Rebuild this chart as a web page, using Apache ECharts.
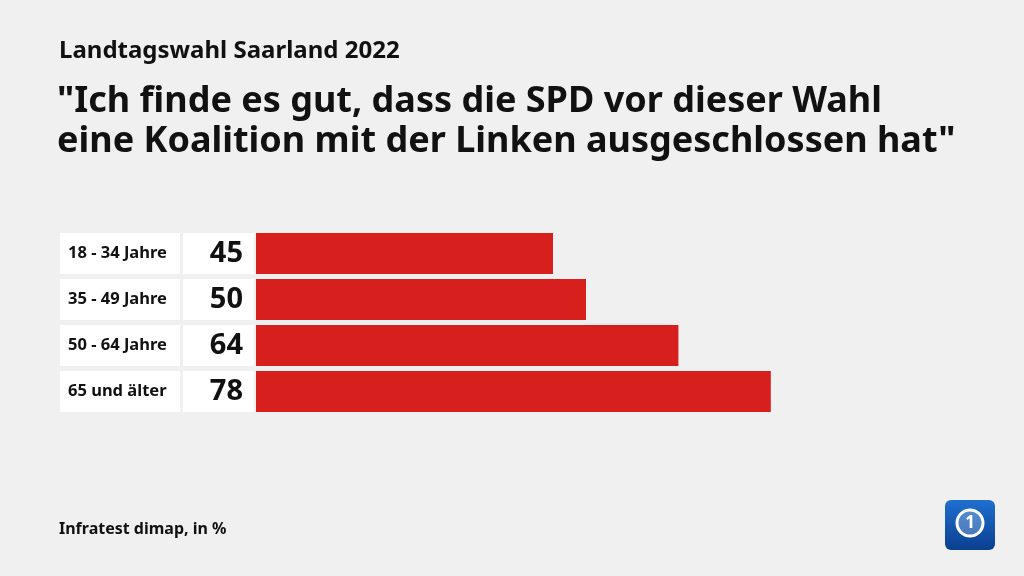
<!DOCTYPE html>
<html><head><meta charset="utf-8">
<script src="https://cdn.jsdelivr.net/npm/echarts@6/dist/echarts.min.js"></script>
<style>html,body{margin:0;padding:0;background:#f0f0f0}#c{width:1024px;height:576px}</style>
</head><body><div id="c"></div>
<script>
const categories = ['18 - 34 Jahre', '35 - 49 Jahre', '50 - 64 Jahre', '65 und älter'];
const values = [45, 50, 64, 78];
const supertitle = 'Landtagswahl Saarland 2022';
const headline = '"Ich finde es gut, dass die SPD vor dieser Wahl\neine Koalition mit der Linken ausgeschlossen hat"';
const source = 'Infratest dimap, in %';

const FONT = '"Noto Sans", "Open Sans", sans-serif';
const chart = echarts.init(document.getElementById('c'), null, {renderer: 'canvas'});
chart.setOption({
  backgroundColor: '#f0f0f0',
  animation: false,
  title: [
    {text: supertitle, left: 59, top: 39, padding: 0, textStyle: {fontFamily: FONT, fontSize: 24, fontWeight: 'bold', color: '#111'}},
    {text: headline, left: 57, top: 82, padding: 0, textStyle: {fontFamily: FONT, fontSize: 36, fontWeight: 'bold', color: '#111', lineHeight: 40}},
    {text: source, left: 59, top: 521, padding: 0, textStyle: {fontFamily: FONT, fontSize: 16, fontWeight: 'bold', color: '#111'}}
  ],
  grid: {left: 256, top: 230.5, width: 660, height: 184},
  xAxis: {type: 'value', min: 0, max: 100, show: false},
  yAxis: {
    type: 'category', data: categories, inverse: true,
    axisLine: {show: false}, axisTick: {show: false},
    axisLabel: {
      margin: 2,
      formatter: (v, i) => '{a|' + v + '}{g|}{b|' + values[i] + '}',
      rich: {
        a: {width: 112, height: 41, padding: [0, 0, 0, 8], backgroundColor: '#fff', align: 'left',
            fontFamily: FONT, fontSize: 16.5, fontWeight: 'bold', color: '#111'},
        g: {width: 3, height: 41},
        b: {width: 60, height: 41, padding: [0, 11, 0, 0], backgroundColor: '#fff', align: 'right',
            fontFamily: FONT, fontSize: 29, fontWeight: 'bold', color: '#111'}
      }
    }
  },
  series: [{
    type: 'bar', data: values, barWidth: 41,
    itemStyle: {color: '#d71f1e'}
  }],
  graphic: [
    {type: 'rect', left: 945, top: 500, shape: {width: 50, height: 50, r: 6},
     style: {fill: new echarts.graphic.LinearGradient(0, 0, 0, 1, [{offset: 0, color: '#1f6fd0'}, {offset: 1, color: '#0a3f8f'}])}},
    {type: 'circle', shape: {cx: 970, cy: 523, r: 13}, style: {fill: 'rgba(255,255,255,0.25)', stroke: '#fff', lineWidth: 3}},
    {type: 'text', x: 970, y: 523, style: {text: '1', fill: '#fff', font: 'bold 17px ' + FONT, textAlign: 'center', textVerticalAlign: 'middle'}}
  ]
});
</script></body></html>
